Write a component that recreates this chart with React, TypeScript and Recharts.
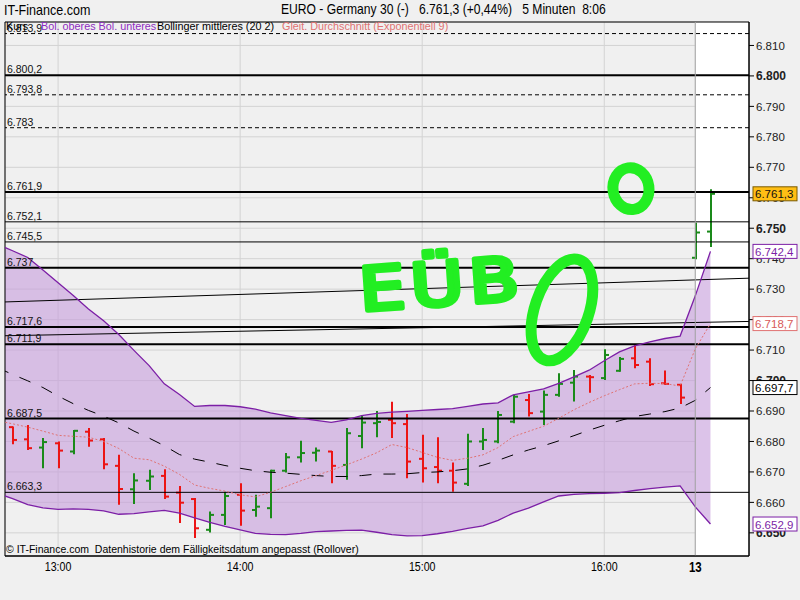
import {
  ComposedChart,
  XAxis,
  YAxis,
  CartesianGrid,
  Area,
  Line,
  Bar,
  ReferenceLine,
  ReferenceArea,
  ReferenceDot,
} from "recharts";

// 5-Minuten-Bars, 12:45 bis 16:25 am Vortag, dann 8:00 und 8:05 am 13.
const opens = [
  6684.7, 6680.7, 6678.0, 6679.4, 6676.7, 6683.2, 6680.7, 6672.0, 6664.3, 6667.1,
  6668.7, 6663.2, 6661.1, 6651.0, 6655.9, 6662.5, 6657.5, 6658.1, 6670.4, 6674.8,
  6676.3, 6676.7, 6672.3, 6681.8, 6686.0, 6687.1, 6685.7, 6674.3, 6671.6, 6670.4,
  6666.1, 6680.0, 6680.0, 6686.5, 6693.6, 6689.8, 6695.3, 6699.3, 6701.3, 6700.8,
  6703.2, 6707.3, 6706.2, 6699.1, 6698.6, 6740.3, 6748.9,
];
const highs = [
  6684.9, 6685.4, 6681.1, 6680.0, 6683.8, 6684.4, 6681.1, 6675.6, 6669.6, 6670.7,
  6670.9, 6665.4, 6661.4, 6657.0, 6663.5, 6666.3, 6662.5, 6670.7, 6676.2, 6680.2,
  6678.0, 6676.9, 6684.4, 6688.7, 6690.0, 6693.0, 6689.0, 6682.2, 6681.4, 6673.1,
  6682.5, 6684.4, 6690.0, 6695.3, 6695.6, 6696.7, 6702.4, 6703.5, 6701.8, 6710.3,
  6707.7, 6712.0, 6707.3, 6703.3, 6698.9, 6751.8, 6762.8,
];
const lows = [
  6679.1, 6677.2, 6671.2, 6671.2, 6675.8, 6678.3, 6670.9, 6659.2, 6659.5, 6664.1,
  6661.1, 6653.2, 6648.3, 6650.1, 6652.6, 6652.3, 6655.3, 6654.8, 6669.8, 6673.1,
  6673.4, 6666.3, 6667.4, 6677.8, 6681.4, 6681.1, 6667.9, 6666.5, 6666.3, 6663.5,
  6665.4, 6677.2, 6679.4, 6686.0, 6688.2, 6685.4, 6694.7, 6693.1, 6696.0, 6700.2,
  6702.9, 6704.0, 6698.2, 6698.6, 6692.3, 6739.8, 6743.8,
];
const closes = [
  6680.5, 6677.8, 6679.8, 6677.0, 6683.5, 6680.3, 6672.5, 6664.4, 6667.2, 6668.5,
  6661.9, 6659.9, 6651.5, 6655.9, 6662.1, 6657.3, 6658.6, 6670.4, 6674.8, 6676.2,
  6677.0, 6672.0, 6682.7, 6686.2, 6686.4, 6686.0, 6673.4, 6671.2, 6670.4, 6666.5,
  6680.0, 6680.5, 6688.7, 6694.7, 6689.3, 6695.3, 6698.9, 6701.3, 6701.1, 6708.4,
  6707.1, 6705.1, 6698.8, 6698.9, 6694.4, 6748.6, 6761.3,
];

// Indikatoren, ein Wert mehr vorne (Bar vor dem linken Rand)
const upperBand = [
  6744.8,
  6742.6, 6740.4, 6736.3, 6732.1, 6727.9, 6723.5, 6719.6, 6715.1, 6709.9, 6704.9,
  6698.9, 6695.4, 6691.5, 6691.8, 6691.8, 6691.4, 6690.6, 6689.4, 6688.5, 6687.6,
  6686.9, 6686.3, 6687.1, 6688.5, 6689.2, 6689.6, 6689.9, 6690.2, 6690.5, 6690.8,
  6691.5, 6692.3, 6692.7, 6695.3, 6696.3, 6697.3, 6699.1, 6701.2, 6703.4, 6706.5,
  6709.4, 6711.4, 6712.7, 6713.8, 6714.6, 6727.8, 6742.4,
];
const lowerBand = [
  6663.0,
  6661.2, 6659.3, 6658.2, 6657.7, 6657.9, 6657.7, 6657.2, 6656.1, 6656.3, 6656.9,
  6657.4, 6656.5, 6654.9, 6653.4, 6652.1, 6651.0, 6649.8, 6649.5, 6649.4, 6649.8,
  6650.4, 6650.6, 6650.8, 6650.9, 6650.2, 6649.4, 6649.0, 6649.1, 6649.7, 6650.5,
  6651.5, 6652.3, 6654.1, 6656.5, 6658.1, 6660.2, 6662.1, 6662.6, 6662.9, 6663.0,
  6663.2, 6663.9, 6664.5, 6665.0, 6665.4, 6658.5, 6652.9,
];
const middleBand = [
  6704.2,
  6702.0, 6699.9, 6697.7, 6694.9, 6692.4, 6690.2, 6688.3, 6686.1, 6683.4, 6681.1,
  6678.6, 6675.7, 6674.2, 6673.2, 6672.1, 6671.2, 6670.4, 6669.9, 6669.6, 6669.2,
  6668.8, 6668.5, 6668.5, 6668.8, 6669.3, 6669.3, 6669.4, 6669.8, 6670.0, 6670.4,
  6671.0, 6672.2, 6673.8, 6675.6, 6677.2, 6678.6, 6680.2, 6681.9, 6683.7, 6685.3,
  6686.8, 6688.2, 6689.0, 6689.8, 6691.0, 6693.5, 6697.7,
];
const ema9 = [
  6686.8,
  6685.8, 6684.7, 6683.4, 6682.0, 6681.7, 6681.4, 6680.0, 6677.7, 6674.5, 6674.0,
  6671.9, 6669.2, 6665.7, 6664.6, 6663.7, 6662.5, 6661.8, 6663.3, 6665.2, 6667.1,
  6668.8, 6670.5, 6672.3, 6674.2, 6676.3, 6679.0, 6678.0, 6676.4, 6674.8, 6673.8,
  6674.5, 6675.6, 6678.0, 6681.6, 6683.3, 6685.0, 6687.6, 6690.4, 6692.8, 6695.0,
  6697.0, 6698.9, 6699.1, 6699.0, 6698.2, 6710.4, 6718.7,
];

const xTickSlots = [3, 15, 27, 39, 45];
const xTickLabels = ["13:00", "14:00", "15:00", "16:00", "13"];
const yTicks = [
  6650, 6660, 6670, 6680, 6690, 6700, 6710, 6720, 6730, 6740, 6750, 6760, 6770,
  6780, 6790, 6800, 6810,
];

// eingezeichnete Marken
const thickLevels = [6800.2, 6761.9, 6737, 6717.6, 6711.9, 6687.5];
const thinLevels = [6752.1, 6745.5, 6663.3];
const dashedLevels = [6813.9, 6793.8, 6783];
const trendA = [6725.8, 6733.6];
const trendB = [6714.7, 6719.4];

const X_MIN = -0.5;
const X_MAX = 48.54;
const Y_MIN = 6642.4;
const Y_MAX = 6817.7;

const RED = "#ec1414";
const GREEN = "#1a8a1a";
const PURPLE = "#7c1fa6";
const SALMON = "#e07272";
const LIME = "#22ee22";
const FONT = "'Liberation Sans', Arial, sans-serif";

const rows = upperBand.map((u, k) => {
  const i = k - 1;
  const row: any = {
    slot: i,
    band: [lowerBand[k], u],
    upper: u,
    lower: lowerBand[k],
    middle: middleBand[k],
    ema: ema9[k],
  };
  if (i >= 0) {
    row.open = opens[i];
    row.high = highs[i];
    row.low = lows[i];
    row.close = closes[i];
    row.hl = [lows[i], highs[i]];
  }
  return row;
});

const de = (v: number) => {
  const whole = Math.floor(v + 1e-6);
  const dec = Math.round((v - whole) * 10);
  const s = String(whole);
  return s[0] + "." + s.slice(1) + (dec ? "," + dec : "");
};

const OhlcBar = (props: any) => {
  const { x, y, width, height, payload } = props;
  if (!payload || payload.high == null) return null;
  const top = Math.min(y, y + height);
  const h = Math.abs(height);
  const cx = Math.round(x + width / 2);
  const span = payload.high - payload.low || 1;
  const at = (v: number) => top + ((payload.high - v) / span) * h;
  const color = payload.close >= payload.open ? GREEN : RED;
  return (
    <g stroke={color} strokeWidth={2}>
      <line x1={cx} x2={cx} y1={top} y2={top + h} />
      <line x1={cx - 4} x2={cx} y1={at(payload.open)} y2={at(payload.open)} />
      <line x1={cx} x2={cx + 4} y1={at(payload.close)} y2={at(payload.close)} />
    </g>
  );
};

const XTick = ({ x, y, payload }: any) => {
  const k = xTickSlots.indexOf(payload.value);
  const day = payload.value === 45;
  return (
    <text
      transform={`translate(${x} ${y}) scale(0.82 1)`}
      dy="0.72em"
      textAnchor="middle"
      fontFamily={FONT}
      fontSize={day ? 14 : 13}
      fontWeight={day ? "bold" : "normal"}
      fill="#000"
    >
      {xTickLabels[k]}
    </text>
  );
};

const YTick = ({ x, y, payload }: any) => {
  const bold = payload.value % 50 === 0;
  return (
    <text
      x={x}
      y={y}
      dy="0.36em"
      textAnchor="start"
      fontFamily={FONT}
      fontSize={bold ? 12 : 11.5}
      fontWeight={bold ? "bold" : "normal"}
      fill="#222"
    >
      {de(payload.value)}
    </text>
  );
};

const valueBox = (fill: string, stroke: string, color: string, v: number) => (p: any) =>
  (
    <g>
      <rect x={p.cx + 4} y={p.cy - 7} width={44} height={14} fill={fill} stroke={stroke} />
      <text x={p.cx + 6} y={p.cy + 4.5} fontFamily={FONT} fontSize={11.5} fill={color}>
        {de(v)}
      </text>
    </g>
  );

const ring = (rx: number, ry: number, rot: number) => (p: any) =>
  (
    <ellipse
      cx={p.cx}
      cy={p.cy}
      rx={rx}
      ry={ry}
      fill="none"
      stroke={LIME}
      strokeWidth={11}
      transform={`rotate(${rot} ${p.cx} ${p.cy})`}
    />
  );

// handgemaltes "EÜB"
const scribble = (p: any) => (
  <text
    x={0}
    y={22}
    textAnchor="middle"
    fontFamily="'DejaVu Sans', sans-serif"
    fontSize={60}
    letterSpacing={5}
    fill={LIME}
    stroke={LIME}
    strokeWidth={5}
    strokeLinejoin="round"
    strokeLinecap="round"
    transform={`rotate(-4 ${p.cx} ${p.cy}) translate(${p.cx} ${p.cy}) scale(1.2 1)`}
  >
    EÜB
  </text>
);

const levelLabel = (v: number) => ({
  value: de(v),
  position: "insideBottomLeft" as const,
  offset: 2,
  fill: "#111",
  fontSize: 10.5,
  fontFamily: FONT,
});

const abs = (left: number, top: number, extra: any = {}) => ({
  position: "absolute" as const,
  left,
  top,
  whiteSpace: "pre" as const,
  ...extra,
});

export default function App() {
  const last = upperBand.length - 1;
  const boxes = [
    { v: closes[closes.length - 1], fill: "#ffbe14", stroke: "#7a5a00", color: "#111" },
    { v: upperBand[last], fill: "#ffffff", stroke: PURPLE, color: PURPLE },
    { v: ema9[last], fill: "#ffffff", stroke: SALMON, color: "#d85a5a" },
    { v: middleBand[last], fill: "#ffffff", stroke: "#000", color: "#000" },
    { v: lowerBand[last], fill: "#ffffff", stroke: PURPLE, color: PURPLE },
  ];
  return (
    <div
      style={{
        position: "relative",
        width: 800,
        height: 600,
        background: "#f0f0f0",
        fontFamily: FONT,
        overflow: "hidden",
      }}
    >
      <style>{"body{margin:0;background:#f0f0f0}"}</style>
      <ComposedChart
        width={800}
        height={600}
        data={rows}
        margin={{ top: 22, right: 0, bottom: 0, left: 5 }}
      >
        <ReferenceArea
          x1={45}
          x2={X_MAX}
          y1={Y_MIN}
          y2={Y_MAX}
          fill="#ffffff"
          fillOpacity={1}
          stroke="none"
          ifOverflow="visible"
        />
        <CartesianGrid stroke="#d3d3d3" />
        <XAxis
          dataKey="slot"
          type="number"
          domain={[X_MIN, X_MAX]}
          allowDataOverflow
          ticks={xTickSlots}
          height={44}
          tickLine={false}
          tickSize={4}
          axisLine={{ stroke: "#000" }}
          tick={<XTick />}
        />
        <YAxis
          orientation="right"
          type="number"
          domain={[Y_MIN, Y_MAX]}
          allowDataOverflow
          ticks={yTicks}
          width={51}
          tickSize={5}
          tickMargin={2}
          tickLine={{ stroke: "#000" }}
          axisLine={{ stroke: "#000" }}
          tick={<YTick />}
        />
        <Area
          dataKey="band"
          stroke="none"
          fill="#c8a0dc"
          fillOpacity={0.63}
          isAnimationActive={false}
        />

        {thickLevels.map((v) => (
          <ReferenceLine key={"k" + v} y={v} stroke="#000" strokeWidth={2} label={levelLabel(v)} />
        ))}
        {thinLevels.map((v) => (
          <ReferenceLine key={"t" + v} y={v} stroke="#000" strokeWidth={1} label={levelLabel(v)} />
        ))}
        {dashedLevels.map((v) => (
          <ReferenceLine
            key={"d" + v}
            y={v}
            stroke="#000"
            strokeWidth={1}
            strokeDasharray="4 3"
            label={levelLabel(v)}
          />
        ))}
        <ReferenceLine
          segment={[
            { x: X_MIN, y: trendA[0] },
            { x: X_MAX, y: trendA[1] },
          ]}
          stroke="#000"
          strokeWidth={1}
        />
        <ReferenceLine
          segment={[
            { x: X_MIN, y: trendB[0] },
            { x: X_MAX, y: trendB[1] },
          ]}
          stroke="#000"
          strokeWidth={1}
        />

        <Line dataKey="upper" stroke={PURPLE} strokeWidth={1.3} dot={false} isAnimationActive={false} />
        <Line dataKey="lower" stroke={PURPLE} strokeWidth={1.3} dot={false} isAnimationActive={false} />
        <Line
          dataKey="middle"
          stroke="#000"
          strokeWidth={1}
          strokeDasharray="12 12"
          dot={false}
          isAnimationActive={false}
        />
        <Line
          dataKey="ema"
          stroke={SALMON}
          strokeWidth={1}
          strokeDasharray="2 2"
          dot={false}
          isAnimationActive={false}
        />
        <Bar dataKey="hl" barSize={8} shape={<OhlcBar />} isAnimationActive={false} />

        <ReferenceLine x={45} stroke="#a4a4a4" strokeWidth={1} />

        <ReferenceDot x={28.3} y={6732.0} r={1} ifOverflow="visible" shape={scribble} />
        <ReferenceDot x={36.21} y={6723.2} r={1} ifOverflow="visible" shape={ring(27, 53, 19)} />
        <ReferenceDot x={40.76} y={6763.0} r={1} ifOverflow="visible" shape={ring(18, 21, -8)} />

        <ReferenceArea
          x1={X_MIN}
          x2={X_MAX}
          y1={Y_MIN}
          y2={Y_MAX}
          fill="none"
          stroke="#000"
          strokeWidth={1}
          ifOverflow="visible"
        />
      </ComposedChart>

      {/* second layer with the same scales so the last-value boxes sit above the axis labels */}
      <div style={{ position: "absolute", left: 0, top: 0, pointerEvents: "none" }}>
        <ComposedChart
          width={800}
          height={600}
          data={rows}
          margin={{ top: 22, right: 51, bottom: 44, left: 5 }}
          style={{ overflow: "visible" }}
        >
          <XAxis dataKey="slot" type="number" domain={[X_MIN, X_MAX]} allowDataOverflow hide />
          <YAxis type="number" domain={[Y_MIN, Y_MAX]} allowDataOverflow hide />
          {boxes.map((b) => (
            <ReferenceDot
              key={b.v}
              x={X_MAX}
              y={b.v}
              r={1}
              ifOverflow="visible"
              shape={valueBox(b.fill, b.stroke, b.color, b.v)}
            />
          ))}
        </ComposedChart>
      </div>

      <div style={abs(4, 1, { fontSize: 15, transform: "scaleX(0.835)", transformOrigin: "0 0" })}>
        IT-Finance.com
      </div>
      <div style={abs(281, 1, { fontSize: 14.5, transform: "scaleX(0.835)", transformOrigin: "0 0" })}>
        {"EURO - Germany 30 (-)   6.761,3 (+0,44%)   5 Minuten  8:06"}
      </div>
      <div style={abs(6, 21, { fontSize: 10.8, lineHeight: "11px", color: "#000" })}>Kurs</div>
      <div style={abs(41, 21, { fontSize: 10.8, lineHeight: "11px", color: "#8e2cc0" })}>
        Bol. oberes Bol. unteres
      </div>
      <div style={abs(157, 21, { fontSize: 10.8, lineHeight: "11px", color: "#000" })}>
        Bollinger mittleres (20 2)
      </div>
      <div style={abs(282, 21, { fontSize: 10.8, lineHeight: "11px", color: SALMON })}>
        Gleit. Durchschnitt (Exponentiell 9)
      </div>
      <div style={abs(6, 543, { fontSize: 10.5, lineHeight: "12px", color: "#000" })}>
        {"© IT-Finance.com  Datenhistorie dem Fälligkeitsdatum angepasst (Rollover)"}
      </div>
    </div>
  );
}
